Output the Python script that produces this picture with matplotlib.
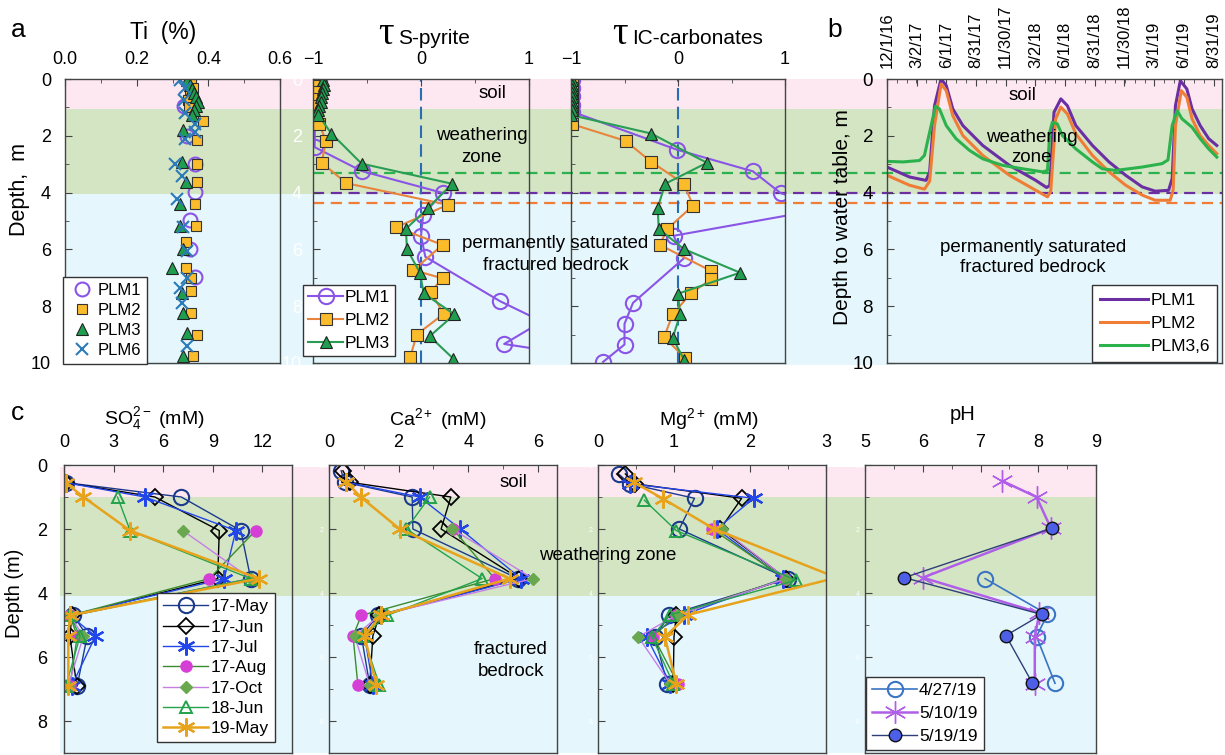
import matplotlib
matplotlib.use('Agg')
import matplotlib.pyplot as plt
import matplotlib.dates as mdates
from matplotlib.ticker import MultipleLocator, FormatStrFormatter
from datetime import datetime

plt.rcParams['font.family'] = ['Liberation Sans', 'DejaVu Sans']
plt.rcParams['mathtext.fontset'] = 'custom'
plt.rcParams['mathtext.rm'] = 'Liberation Sans'
plt.rcParams['mathtext.it'] = 'Liberation Sans:italic'

# ---------------- data: panel a, Ti (%) vs depth (m)
ti_plm1_depth = [0.96, 2.0, 2.98, 3.99, 4.95, 5.99, 6.97]
ti_plm1 = [0.332, 0.34, 0.363, 0.363, 0.35, 0.35, 0.363]
ti_plm2_depth = [0.0, 0.3, 0.55, 0.75, 1.0, 1.47, 2.16, 2.98, 3.63, 4.4, 5.17, 5.75, 6.64, 7.0, 7.46, 8.23, 9.0, 9.76]
ti_plm2 = [0.353, 0.358, 0.35, 0.344, 0.345, 0.386, 0.367, 0.367, 0.367, 0.363, 0.366, 0.338, 0.338, 0.353, 0.353, 0.353, 0.367, 0.356]
ti_plm3_depth = [0.05, 0.2, 0.35, 0.5, 0.65, 0.8, 0.95, 1.1, 1.25, 1.8, 2.92, 3.63, 4.4, 5.17, 5.99, 6.64, 7.52, 8.23, 8.94, 9.76]
ti_plm3 = [0.34, 0.35, 0.355, 0.36, 0.365, 0.37, 0.365, 0.36, 0.355, 0.328, 0.326, 0.338, 0.321, 0.321, 0.328, 0.298, 0.326, 0.33, 0.34, 0.328]
ti_plm6_depth = [0.04, 0.3, 0.74, 1.2, 1.57, 1.86, 2.1, 2.98, 3.4, 4.22, 5.2, 6.05, 6.99, 7.35, 7.88, 9.4]
ti_plm6 = [0.321, 0.335, 0.333, 0.335, 0.363, 0.363, 0.335, 0.307, 0.326, 0.312, 0.33, 0.34, 0.34, 0.321, 0.326, 0.34]

# tau S-pyrite
ts_plm1_depth = [0.05, 0.3, 0.6, 0.9, 1.1, 2.4, 3.24, 4.01, 4.78, 5.52, 6.26, 7.82, 8.54, 9.33, 9.7]
ts_plm1 = [-0.94, -0.95, -0.96, -0.97, -0.98, -0.985, -0.55, 0.2, 0.02, 0.0, 0.04, 0.73, 1.12, 0.77, 1.4]
ts_plm2_depth = [0.04, 0.25, 0.45, 0.7, 0.95, 1.6, 2.18, 2.95, 3.67, 4.43, 5.22, 5.84, 6.73, 7.02, 7.49, 8.27, 9.0, 9.8]
ts_plm2 = [-0.94, -0.95, -0.97, -1.0, -0.97, -0.94, -0.88, -0.92, -0.69, 0.25, -0.23, 0.2, -0.07, 0.2, 0.09, 0.21, -0.04, -0.1]
ts_plm3_depth = [0.05, 0.2, 0.35, 0.5, 0.65, 0.8, 0.95, 1.1, 1.27, 1.92, 2.98, 3.69, 4.54, 5.28, 5.99, 6.82, 7.55, 8.29, 9.06, 9.85]
ts_plm3 = [-0.91, -0.9, -0.91, -0.92, -0.93, -0.93, -0.94, -0.95, -0.95, -0.83, -0.55, 0.29, 0.065, -0.14, -0.13, -0.01, 0.025, 0.31, 0.08, 0.3]

# tau IC-carbonates
tc_plm1_depth = [0.04, 0.3, 0.6, 0.9, 1.15, 2.49, 3.25, 4.02, 4.55, 5.52, 6.31, 7.88, 8.62, 9.35, 9.96]
tc_plm1 = [-0.99, -0.99, -0.99, -0.99, -0.99, -0.01, 0.70, 0.96, 1.4, -0.04, 0.056, -0.42, -0.5, -0.5, -0.7]
tc_plm2_depth = [0.05, 0.3, 0.55, 0.8, 1.05, 1.59, 2.18, 2.92, 3.69, 4.46, 5.28, 5.84, 6.76, 7.05, 7.55, 8.29, 9.09, 9.82]
tc_plm2 = [-0.99, -0.99, -0.99, -0.99, -0.99, -0.99, -0.49, -0.25, 0.056, 0.14, -0.1, -0.17, 0.31, 0.31, 0.12, -0.05, -0.13, 0.065]
tc_plm3_depth = [0.05, 0.2, 0.35, 0.5, 0.65, 0.8, 0.95, 1.1, 1.27, 1.92, 2.95, 3.69, 4.54, 5.28, 5.99, 6.82, 7.56, 8.29, 9.12, 9.88]
tc_plm3 = [-0.99, -0.99, -0.99, -0.99, -0.99, -0.99, -0.99, -0.99, -1.0, -0.25, 0.27, -0.12, -0.19, -0.18, 0.056, 0.58, 0.0, 0.02, -0.05, 0.056]

# ---------------- panel b, depth to water table (m)
wt_plm1_dates = ['2016-12-01', '2017-02-08', '2017-03-31', '2017-04-11', '2017-04-26', '2017-05-16', '2017-06-01',
                 '2017-06-21', '2017-07-22', '2017-09-21', '2017-12-12', '2018-03-03', '2018-04-05', '2018-04-15',
                 '2018-04-28', '2018-05-19', '2018-06-08', '2018-07-04', '2018-08-24', '2018-10-14', '2018-12-04',
                 '2019-01-24', '2019-03-05', '2019-04-15', '2019-04-26', '2019-05-06', '2019-05-21', '2019-06-10',
                 '2019-06-26', '2019-07-21', '2019-08-16', '2019-09-10']
wt_plm1 = [3.1, 3.45, 3.57, 3.27, 0.94, 0.0, 0.23, 1.05, 1.64, 2.34, 3.04, 3.57, 3.82, 3.75, 1.17, 0.70,
           0.94, 1.64, 2.34, 2.92, 3.39, 3.8, 3.95, 3.92, 3.5, 0.94, 0.06, 0.35, 1.05, 1.64, 2.1, 2.34]
wt_plm2_dates = ['2016-12-01', '2017-02-08', '2017-03-26', '2017-04-11', '2017-04-26', '2017-05-16', '2017-06-01',
                 '2017-06-21', '2017-07-22', '2017-09-21', '2017-12-12', '2018-03-03', '2018-04-08', '2018-04-18',
                 '2018-05-03', '2018-05-19', '2018-06-08', '2018-07-04', '2018-08-24', '2018-10-14', '2018-12-04',
                 '2019-01-24', '2019-03-05', '2019-04-20', '2019-04-29', '2019-05-06', '2019-05-24', '2019-06-10',
                 '2019-06-26', '2019-07-21', '2019-08-16', '2019-09-10']
wt_plm2 = [3.39, 3.74, 3.88, 3.6, 1.64, 0.18, 0.41, 1.29, 1.99, 2.69, 3.39, 3.92, 4.15, 3.95, 1.40, 0.99,
           1.23, 1.93, 2.69, 3.27, 3.74, 4.09, 4.27, 4.27, 3.9, 1.64, 0.41, 0.64, 1.40, 1.99, 2.34, 2.63]
wt_plm3_dates = ['2016-12-01', '2017-01-19', '2017-03-11', '2017-03-26', '2017-04-11', '2017-04-29', '2017-05-11',
                 '2017-06-01', '2017-07-01', '2017-08-11', '2017-09-21', '2017-11-21', '2018-01-21', '2018-03-24',
                 '2018-04-08', '2018-04-15', '2018-04-23', '2018-05-08', '2018-05-24', '2018-07-04', '2018-08-24',
                 '2018-09-23', '2018-11-03', '2018-12-14', '2019-01-24', '2019-03-26', '2019-04-13', '2019-04-26',
                 '2019-05-11', '2019-05-26', '2019-06-26', '2019-07-21', '2019-08-16', '2019-09-10']
wt_plm3 = [2.9, 2.92, 2.87, 2.69, 1.87, 0.96, 1.05, 1.64, 2.1, 2.51, 2.81, 3.04, 3.16, 3.27, 3.22, 1.87, 1.52,
           1.58, 1.99, 2.46, 2.92, 3.16, 3.22, 3.16, 3.1, 2.98, 2.85, 1.64, 1.11, 1.40, 1.70, 2.1, 2.46, 2.75]
wt_tick_dates = ['2016-12-01', '2017-03-02', '2017-06-01', '2017-08-31', '2017-11-30', '2018-03-02',
                 '2018-06-01', '2018-08-31', '2018-11-30', '2019-03-01', '2019-06-01', '2019-08-31']
# mean water-table depths shown as dashed lines (m)
wt_mean = {'PLM3,6': 3.32, 'PLM1': 4.0, 'PLM2': 4.35}

# ---------------- panel c, porewater chemistry vs depth (m)
chem_names = ['17-May', '17-Jun', '17-Jul', '17-Aug', '17-Oct', '18-Jun', '19-May']
so4_depth = {
    '17-May': [0.55, 1.0, 2.05, 3.55, 4.7, 5.35, 6.9],
    '17-Jun': [0.55, 1.0, 2.05, 3.55, 4.7, 5.35, 6.9],
    '17-Jul': [0.55, 1.0, 2.05, 3.55, 4.7, 5.35, 6.9],
    '17-Aug': [2.05, 3.55, 4.7, 5.35, 6.9],
    '17-Oct': [2.05, 3.55, 4.7, 5.35, 6.9],
    '18-Jun': [1.0, 2.05, 3.55, 4.7, 5.35, 6.9],
    '19-May': [0.55, 1.0, 2.05, 3.55, 4.7, 5.35, 6.9],
}
so4 = {
    '17-May': [0.1, 7.1, 10.7, 11.3, 0.57, 1.4, 0.8],
    '17-Jun': [0.1, 5.5, 9.4, 9.3, 0.47, 0.36, 0.77],
    '17-Jul': [0.1, 4.9, 10.4, 9.7, 0.36, 1.9, 0.47],
    '17-Aug': [11.6, 8.8, 0.36, 0.8, 0.36],
    '17-Oct': [7.2, 11.3, 0.36, 1.17, 0.26],
    '18-Jun': [3.24, 4.0, 11.3, 0.36, 0.97, 0.12],
    '19-May': [0.1, 1.17, 4.0, 11.8, 0.36, 0.26, 0.26],
}
ca_depth = {
    '17-May': [0.18, 0.54, 1.0, 2.0, 3.55, 4.7, 5.34, 6.88],
    '17-Jun': [0.18, 0.54, 1.0, 2.0, 3.55, 4.7, 5.34, 6.88],
    '17-Jul': [0.54, 1.0, 2.0, 3.55, 4.7, 5.34, 6.88],
    '17-Aug': [2.0, 3.55, 4.7, 5.34, 6.88],
    '17-Oct': [2.0, 3.55, 4.7, 5.34, 6.88],
    '18-Jun': [1.0, 2.0, 3.55, 4.7, 5.34, 6.88],
    '19-May': [0.54, 1.0, 2.0, 3.55, 4.7, 5.34, 6.88],
}
ca = {
    '17-May': [0.35, 0.45, 2.39, 2.41, 5.43, 1.41, 0.93, 1.17],
    '17-Jun': [0.4, 0.59, 3.5, 3.22, 5.47, 1.45, 1.26, 1.17],
    '17-Jul': [0.5, 2.6, 3.77, 5.52, 1.5, 1.02, 1.26],
    '17-Aug': [3.56, 4.76, 0.93, 0.69, 0.83],
    '17-Oct': [3.54, 5.86, 1.45, 0.74, 1.17],
    '18-Jun': [2.89, 2.22, 4.4, 1.67, 0.98, 1.45],
    '19-May': [0.5, 0.91, 2.03, 5.19, 1.5, 1.02, 1.36],
}
mg_depth = {
    '17-May': [0.28, 0.59, 1.04, 2.0, 3.55, 4.68, 5.37, 6.83],
    '17-Jun': [0.28, 0.59, 1.04, 2.0, 3.55, 4.68, 5.37, 6.83],
    '17-Jul': [0.59, 1.04, 2.0, 3.55, 4.68, 5.37, 6.83],
    '17-Aug': [2.0, 3.55, 4.68, 5.37, 6.83],
    '17-Oct': [2.0, 3.55, 4.68, 5.37, 6.83],
    '18-Jun': [1.1, 2.05, 3.6, 4.68, 5.37, 6.83],
    '19-May': [0.54, 1.06, 2.0, 3.52, 4.68, 5.37, 6.83],
}
mg = {
    '17-May': [0.27, 0.42, 1.27, 1.07, 2.5, 0.94, 0.75, 0.91],
    '17-Jun': [0.36, 0.49, 1.89, 1.61, 2.48, 1.03, 1.0, 0.99],
    '17-Jul': [0.42, 2.05, 1.56, 2.44, 1.13, 0.64, 0.95],
    '17-Aug': [1.5, 2.46, 1.02, 0.73, 1.05],
    '17-Oct': [1.63, 2.48, 1.04, 0.53, 0.95],
    '18-Jun': [0.61, 1.03, 2.61, 0.95, 0.71, 0.99],
    '19-May': [0.47, 0.86, 1.53, 3.14, 1.19, 0.88, 1.03],
}
ph_names = ['4/27/19', '5/10/19', '5/19/19']
ph_depth = {
    '4/27/19': [3.55, 4.67, 5.36, 6.82],
    '5/10/19': [0.5, 1.0, 1.98, 3.52, 4.62, 5.37, 6.83],
    '5/19/19': [1.98, 3.52, 4.67, 5.33, 6.82],
}
ph = {
    '4/27/19': [7.08, 8.16, 7.97, 8.29],
    '5/10/19': [7.38, 7.97, 8.22, 6.0, 8.02, 7.94, 7.94],
    '5/19/19': [8.23, 5.68, 8.06, 7.44, 7.9],
}

# zone boundaries (m)
top_zones = [(0.0, 1.05, '#fde7f0'), (1.05, 4.05, '#d4e5c4'), (4.05, 10.08, '#e5f6fc')]
bot_zones = [(0.06, 1.0, '#fde7f0'), (1.0, 4.08, '#d4e5c4'), (4.08, 9.0, '#e5f6fc')]

# ---------------- styles
C_P1, C_P2, C_P3, C_P6 = '#8a55e6', '#e8843c', '#2a9d55', '#2b7bb9'
WT_COL = {'PLM1': '#6b2fa3', 'PLM2': '#ef7d35', 'PLM3,6': '#2bb24d'}
chem_style = {
    '17-May': dict(color='#1b3a8c', marker='o', mfc='none', mec='#1b3a8c', ms=11, mew=1.5, lw=1.0),
    '17-Jun': dict(color='black', marker='D', mfc='none', mec='black', ms=8, mew=1.3, lw=1.0),
    '17-Jul': dict(color='#2346e8', marker=(6, 2, 0), mec='#2346e8', ms=13, mew=1.6, lw=1.0),
    '17-Aug': dict(color='#3d8b2f', marker='o', mfc='#d63fd6', mec='#d63fd6', ms=8, lw=1.0),
    '17-Oct': dict(color='#c57ee6', marker='D', mfc='#6aa84f', mec='#6aa84f', ms=6.5, lw=1.0),
    '18-Jun': dict(color='#23a24b', marker='^', mfc='none', mec='#23a24b', ms=9, mew=1.4, lw=1.0),
    '19-May': dict(color='#e6a31b', marker=(6, 2, 0), mec='#e6a31b', ms=13, mew=1.6, lw=1.8),
}
ph_style = {
    '4/27/19': dict(color='#3a74c4', marker='o', mfc='none', mec='#3a74c4', ms=11, mew=1.5, lw=1.2),
    '5/10/19': dict(color='#b05ee8', marker=(6, 2, 0), mec='#b05ee8', ms=16, mew=1.0, lw=1.8),
    '5/19/19': dict(color='#2e3f78', marker='o', mfc='#4d5fe6', mec='#111111', ms=9, lw=1.0),
}
LEG = dict(frameon=True, fancybox=False, edgecolor='#333333', framealpha=1, borderaxespad=0)

W, H = 1225, 755
fig = plt.figure(figsize=(W / 100, H / 100), dpi=100)


def px_axes(x0, y0, x1, y1, z=1):
    ax = fig.add_axes([x0 / W, 1 - y1 / H, (x1 - x0) / W, (y1 - y0) / H])
    ax.set_zorder(z)
    return ax


def ftext(x, y, s, **kw):
    kw.setdefault('ha', 'center')
    kw.setdefault('va', 'center')
    return fig.text(x / W, 1 - y / H, s, **kw)


def style(ax, ylim, xlim=None, xmaj=None, xmin=None, fs=13):
    ax.set_facecolor('none')
    for s in ax.spines.values():
        s.set_color('#444444')
        s.set_linewidth(1.0)
    ax.set_ylim(*ylim)
    if xlim is not None:
        ax.set_xlim(*xlim)
    ax.xaxis.tick_top()
    ax.tick_params(which='both', direction='in', color='#444444', top=True, bottom=False,
                   labeltop=True, labelbottom=False, labelsize=fs)
    ax.tick_params(which='major', length=5)
    ax.tick_params(which='minor', length=3)
    ax.yaxis.set_major_locator(MultipleLocator(2))
    ax.yaxis.set_minor_locator(MultipleLocator(1))
    if xmaj is not None:
        ax.xaxis.set_major_locator(MultipleLocator(xmaj))
    if xmin is not None:
        ax.xaxis.set_minor_locator(MultipleLocator(xmin))


# ---------------- background zones and mean water-table lines
bg_top = px_axes(65, 79, 1222, 363, z=0)
bg_top.set_xlim(65, 1222)
bg_top.set_ylim(10, 0)
bg_top.axis('off')
for d0, d1, c in top_zones:
    bg_top.axhspan(d0, d1, color=c, lw=0, clip_on=False)
for k in ['PLM3,6', 'PLM1', 'PLM2']:
    bg_top.hlines(wt_mean[k], 313, 1222, colors=WT_COL[k], linestyles=(0, (5, 3)), lw=1.6)

bg_bot = px_axes(60, 465, 1097, 753, z=0)
bg_bot.set_xlim(60, 1097)
bg_bot.set_ylim(9, 0)
bg_bot.axis('off')
for d0, d1, c in bot_zones:
    bg_bot.axhspan(d0, d1, color=c, lw=0, clip_on=False)

# ---------------- panel a: Ti
ax = px_axes(65, 79, 280, 363)
style(ax, (10, 0), (0, 0.6), 0.2, 0.1)
ax.xaxis.set_major_formatter(FormatStrFormatter('%.1f'))
ax.tick_params(axis='x', pad=8)
ax.tick_params(axis='y', pad=10)
ax.plot(ti_plm1, ti_plm1_depth, 'o', mfc='none', mec=C_P1, ms=10, mew=1.5, label='PLM1')
ax.plot(ti_plm2, ti_plm2_depth, 's', mfc='#fbbc2c', mec='#333333', ms=7.5, mew=0.8, label='PLM2')
ax.plot(ti_plm3, ti_plm3_depth, '^', mfc='#1f9e4f', mec='#222222', ms=8.5, mew=0.8, label='PLM3')
ax.plot(ti_plm6, ti_plm6_depth, 'x', color=C_P6, ms=8.5, mew=1.5, label='PLM6')
ax.legend(loc='upper left', bbox_to_anchor=(63 / W, 1 - 277 / H), bbox_transform=fig.transFigure,
          fontsize=12, handletextpad=0.1, handlelength=1.6, labelspacing=0.3, borderpad=0.35, **LEG)
ftext(163, 33, 'Ti  (%)', fontsize=16.5)
ftext(20, 190, 'Depth,  m', fontsize=15.5, rotation=90)
ftext(18, 30, 'a', fontsize=19)

# ---------------- tau panels
for (x0, x1, name, tx, sub), series in zip(
        [(313, 529, 'S', 378, 'S-pyrite'), (571, 785, 'IC', 612, 'IC-carbonates')],
        [[(ts_plm1, ts_plm1_depth), (ts_plm2, ts_plm2_depth), (ts_plm3, ts_plm3_depth)],
         [(tc_plm1, tc_plm1_depth), (tc_plm2, tc_plm2_depth), (tc_plm3, tc_plm3_depth)]]):
    ax = px_axes(x0, 79, x1, 363)
    style(ax, (10, 0), (-1, 1), 1, 0.5)
    ax.tick_params(axis='x', pad=8)
    if name == 'S':
        ax.tick_params(axis='y', labelcolor='white', pad=8)
    else:
        ax.tick_params(axis='y', labelleft=False)
    ax.axvline(0, color='#2a6db5', ls=(0, (6, 3)), lw=1.5, zorder=1)
    (v1, d1), (v2, d2), (v3, d3) = series
    ax.plot(v1, d1, '-o', color=C_P1, mfc='none', mec=C_P1, ms=11, mew=1.5, lw=1.5, label='PLM1')
    ax.plot(v2, d2, '-s', color=C_P2, mfc='#fbbc2c', mec='#333333', ms=8, mew=0.8, lw=1.5, label='PLM2')
    ax.plot(v3, d3, '-^', color=C_P3, mfc='#1f9e4f', mec='#222222', ms=9, mew=0.8, lw=1.5, label='PLM3')
    if name == 'S':
        ax.legend(loc='upper left', bbox_to_anchor=(303 / W, 1 - 285 / H), bbox_transform=fig.transFigure,
                  fontsize=12.5, handletextpad=0.1, handlelength=2.0, labelspacing=0.45, borderpad=0.3, **LEG)
    ftext(tx, 44, 'τ', fontsize=28, family='Liberation Serif', ha='left', va='baseline')
    ftext(tx + 20, 44, sub, fontsize=15, ha='left', va='baseline')

ftext(492, 94, 'soil', fontsize=13.5)
ftext(482, 135, 'weathering', fontsize=13.5)
ftext(482, 157, 'zone', fontsize=13.5)
ftext(555, 243, 'permanently saturated', fontsize=13.5)
ftext(556, 265, 'fractured bedrock', fontsize=13.5)

# ---------------- panel b: water table
ax = px_axes(887, 79, 1222, 363)
style(ax, (10, 0))
to_dt = lambda lst: [datetime.strptime(s, '%Y-%m-%d') for s in lst]
ax.plot(to_dt(wt_plm1_dates), wt_plm1, color=WT_COL['PLM1'], lw=2.2, label='PLM1')
ax.plot(to_dt(wt_plm2_dates), wt_plm2, color=WT_COL['PLM2'], lw=2.2, label='PLM2')
ax.plot(to_dt(wt_plm3_dates), wt_plm3, color=WT_COL['PLM3,6'], lw=2.2, label='PLM3,6')
ax.set_xlim(datetime(2016, 12, 1), datetime(2019, 9, 26))
ticks = to_dt(wt_tick_dates)
ax.set_xticks(ticks)
ax.set_xticklabels([f'{d.month}/{d.day}/{d.year % 100}' for d in ticks], rotation=90, fontsize=12)
ax.xaxis.set_minor_locator(mdates.MonthLocator())
ax.tick_params(axis='x', pad=8)
ax.tick_params(axis='y', pad=10, labelsize=13.5)
ax.legend(loc='upper left', bbox_to_anchor=(1092 / W, 1 - 285 / H), bbox_transform=fig.transFigure,
          fontsize=12.5, handletextpad=0.1, handlelength=2.8, labelspacing=0.45, borderpad=0.45, **LEG)
ftext(1022, 96, 'soil', fontsize=13.5)
ftext(1032, 137, 'weathering', fontsize=13.5)
ftext(1032, 157, 'zone', fontsize=13.5)
ftext(1033, 247, 'permanently saturated', fontsize=13.5)
ftext(1033, 268, 'fractured bedrock', fontsize=13.5)
ftext(843, 217, 'Depth to water table, m', fontsize=15, rotation=90)
ftext(835, 30, 'b', fontsize=19)

# ---------------- panel c: chemistry
chem_panels = [
    (64, 292, (0, 13.8), 3, None, so4_depth, so4, r'SO$_4^{2-}$ (mM)', 154),
    (329, 557, (0, 6.55), 2, 1, ca_depth, ca, r'Ca$^{2+}$ (mM)', 438),
    (598, 826, (0, 3), 1, 0.5, mg_depth, mg, r'Mg$^{2+}$ (mM)', 709),
]
for i, (x0, x1, xl, xmaj, xmin, dd, vv, title, tx) in enumerate(chem_panels):
    ax = px_axes(x0, 465, x1, 753)
    style(ax, (9, 0), xl, xmaj, xmin)
    ax.tick_params(axis='x', pad=10)
    if i == 0:
        ax.tick_params(axis='y', pad=12)
    else:
        ax.tick_params(axis='y', labelcolor='white', labelsize=5, pad=4)
    for nm in chem_names:
        ax.plot(vv[nm], dd[nm], label=nm, **chem_style[nm])
    if i == 0:
        ax.legend(loc='upper left', bbox_to_anchor=(157 / W, 1 - 593 / H), bbox_transform=fig.transFigure,
                  fontsize=12.5, handletextpad=0.15, handlelength=2.6, labelspacing=0.3, borderpad=0.35, **LEG)
    ftext(tx, 419, title, fontsize=14)

ax = px_axes(865, 465, 1096, 753)
style(ax, (9, 0), (5, 9), 1, 0.5)
ax.tick_params(axis='x', pad=10)
ax.tick_params(axis='y', labelcolor='white', labelsize=5, pad=4)
for nm in ph_names:
    ax.plot(ph[nm], ph_depth[nm], label=nm, **ph_style[nm])
ax.legend(loc='upper left', bbox_to_anchor=(866 / W, 1 - 677 / H), bbox_transform=fig.transFigure,
          fontsize=12.5, handletextpad=0.1, handlelength=2.6, labelspacing=0.45, borderpad=0.35, **LEG)
ftext(963, 415, 'pH', fontsize=14.5)

ftext(513, 483, 'soil', fontsize=13.5)
ftext(608, 555, 'weathering zone', fontsize=13.5)
ftext(511, 649, 'fractured', fontsize=13.5)
ftext(511, 671, 'bedrock', fontsize=13.5)
ftext(15, 593, 'Depth (m)', fontsize=14.5, rotation=90)
ftext(17, 413, 'c', fontsize=19)

fig.savefig('out.png', dpi=100)
